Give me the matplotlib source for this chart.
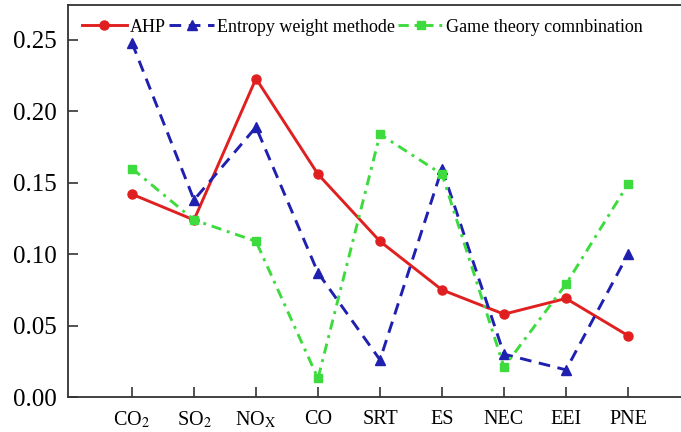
import matplotlib
matplotlib.use("Agg")
import matplotlib.pyplot as plt

categories = [r"CO$_2$", r"SO$_2$", r"NO$_\mathrm{X}$", "CO", "SRT", "ES", "NEC", "EEI", "PNE"]
ahp = [0.142, 0.124, 0.223, 0.156, 0.109, 0.075, 0.058, 0.069, 0.043]
entropy = [0.248, 0.138, 0.189, 0.087, 0.026, 0.160, 0.030, 0.019, 0.100]
game = [0.160, 0.124, 0.109, 0.013, 0.184, 0.156, 0.021, 0.079, 0.149]
yticks = [0.00, 0.05, 0.10, 0.15, 0.20, 0.25]

plt.rcParams["font.family"] = ["Liberation Serif", "DejaVu Serif"]
plt.rcParams["mathtext.fontset"] = "stix"

fig = plt.figure(figsize=(6.81, 4.32), dpi=100)
ax = fig.add_axes([68/681, 35/432, 622/681, 392/432])

x = list(range(len(categories)))
ax.plot(x, ahp, color="#E02020", lw=2.1, marker="o", ms=6.5, label="AHP")
ax.plot(x, entropy, color="#1F1FB0", lw=2.1, ls=(0, (4, 2.6)), marker="^", ms=6.5,
        label="Entropy weight methode")
ax.plot(x, game, color="#3EDB3E", lw=2.1, ls=(0, (3.5, 2, 1, 2)), marker="s", ms=6,
        label="Game theory comnbination")

ax.set_xlim(-64/62, -64/62 + 622/62)
ax.set_ylim(0, 0.2745)
ax.set_xticks(x)
ax.set_xticklabels(categories, fontsize=14.5)
ax.set_yticks(yticks)
ax.set_yticklabels([f"{v:.2f}" for v in yticks], fontsize=18)
ax.tick_params(direction="in", length=7, width=1.2, pad=8, color="#333333")
ax.tick_params(axis="x", pad=9)
ax.spines["right"].set_visible(False)
for s in ["left", "bottom", "top"]:
    ax.spines[s].set_linewidth(1.3)
    ax.spines[s].set_color("#333333")

leg = ax.legend(loc="upper left", bbox_to_anchor=(0.0, 1.0), ncol=3, frameon=False,
                fontsize=13, handlelength=2.5, columnspacing=0.2, handletextpad=0.15,
                borderaxespad=0.45, borderpad=0.3)

fig.savefig("out.png", dpi=100)
